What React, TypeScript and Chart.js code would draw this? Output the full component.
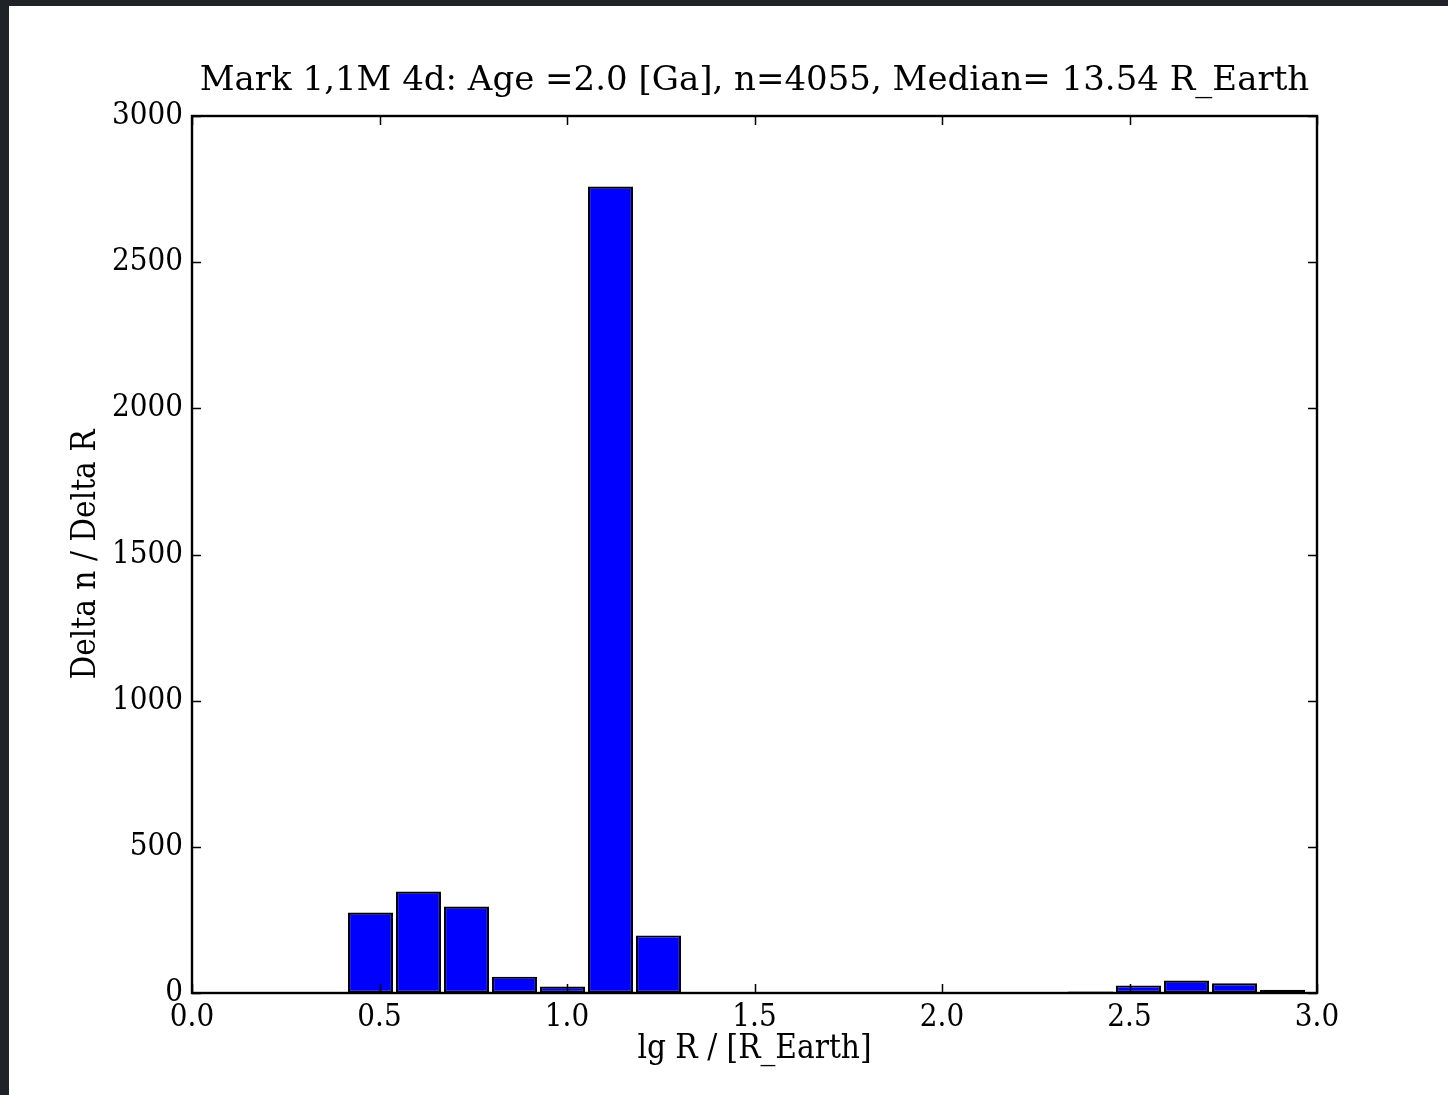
import { useEffect, useRef } from 'react';
import { Chart, registerables } from 'chart.js';

Chart.register(...registerables);

const TITLE = 'Mark 1,1M 4d: Age =2.0 [Ga], n=4055, Median= 13.54 R_Earth';
const X_LABEL = 'lg R / [R_Earth]';
const Y_LABEL = 'Delta n / Delta R';

// histogram bin centres (lg R) and bin heights
const binCenters = [
  0.476, 0.604, 0.732, 0.860, 0.988, 1.116, 1.244, 1.372, 1.500, 1.628,
  1.756, 1.884, 2.012, 2.140, 2.268, 2.396, 2.524, 2.652, 2.780, 2.908,
];
const binValues = [
  275, 347, 296, 56, 22, 2759, 197, 2, 0, 0,
  0, 0, 0, 0, 0, 5, 26, 43, 33, 11,
];

const X_MIN = 0;
const X_MAX = 3;
const X_STEP = 0.5;
const Y_MIN = 0;
const Y_MAX = 3000;
const Y_STEP = 500;

const SERIF = "'DejaVu Serif', serif";
const SERIF_TICK = "'DejaVu Serif Condensed', 'DejaVu Serif', serif";

const framePlugin = {
  id: 'frame',
  afterDraw(chart: any) {
    const { ctx, chartArea: a, scales } = chart;
    const tl = 9;
    ctx.save();
    ctx.strokeStyle = '#000';
    ctx.lineWidth = 1.5;
    ctx.beginPath();
    for (const t of scales.x.ticks) {
      const px = Math.round(scales.x.getPixelForValue(t.value)) + 0.5;
      ctx.moveTo(px, a.bottom);
      ctx.lineTo(px, a.bottom - tl);
      ctx.moveTo(px, a.top);
      ctx.lineTo(px, a.top + tl);
    }
    for (const t of scales.y.ticks) {
      const py = Math.round(scales.y.getPixelForValue(t.value)) + 0.5;
      ctx.moveTo(a.left, py);
      ctx.lineTo(a.left + tl, py);
      ctx.moveTo(a.right, py);
      ctx.lineTo(a.right - tl, py);
    }
    ctx.stroke();
    ctx.lineWidth = 2.4;
    ctx.strokeRect(a.left, a.top, a.right - a.left, a.bottom - a.top);
    ctx.restore();
  },
};

export default function App() {
  const ref = useRef<HTMLCanvasElement | null>(null);

  useEffect(() => {
    document.body.style.margin = '0';
    const canvas = ref.current;
    if (!canvas) return;
    const chart = new Chart(canvas, {
      type: 'bar',
      data: {
        datasets: [
          {
            data: binCenters.map((x, i) => ({ x, y: binValues[i] })),
            backgroundColor: '#0000ff',
            borderColor: '#000000',
            borderWidth: 2.2,
            borderSkipped: false,
            categoryPercentage: 1,
            barPercentage: 0.94,
          },
        ],
      },
      options: {
        animation: false,
        responsive: false,
        events: [],
        layout: { padding: { left: 0, right: 131, top: 0, bottom: 0 } },
        plugins: {
          legend: { display: false },
          tooltip: { enabled: false },
          title: {
            display: true,
            text: TITLE,
            fullSize: false,
            color: '#000',
            font: { family: SERIF, size: 34, weight: 'normal', lineHeight: 1.2 },
            padding: { top: 55, bottom: 14.2 },
          },
        },
        scales: {
          x: {
            type: 'linear',
            min: X_MIN,
            max: X_MAX,
            offset: false,
            grid: { display: false, drawTicks: false, offset: false },
            border: { display: false },
            ticks: {
              stepSize: X_STEP,
              color: '#000',
              padding: 6,
              maxRotation: 0,
              font: { family: SERIF_TICK, size: 31 },
              callback: (v: any) => Number(v).toFixed(1),
            },
            title: {
              display: true,
              text: X_LABEL,
              color: '#000',
              font: { family: SERIF_TICK, size: 33, lineHeight: 1.2 },
              padding: { top: 0, bottom: 26 },
            },
            afterFit: (s: any) => {
              s.height = 102;
            },
          },
          y: {
            min: Y_MIN,
            max: Y_MAX,
            grid: { display: false, drawTicks: false },
            border: { display: false },
            ticks: {
              stepSize: Y_STEP,
              color: '#000',
              padding: 9,
              font: { family: SERIF_TICK, size: 31 },
              callback: (v: any) => String(v),
            },
            title: {
              display: true,
              text: Y_LABEL,
              color: '#000',
              font: { family: SERIF_TICK, size: 33, lineHeight: 1.2 },
              padding: { top: 58, bottom: 0 },
            },
            afterFit: (s: any) => {
              s.width = 183;
            },
          },
        },
      },
      plugins: [framePlugin],
    });
    return () => chart.destroy();
  }, []);

  return (
    <div
      style={{
        position: 'fixed',
        left: 0,
        top: 0,
        width: 1448,
        height: 1095,
        background: '#1f2227',
        overflow: 'hidden',
      }}
    >
      <div
        style={{
          position: 'absolute',
          left: 9,
          top: 6,
          width: 1439,
          height: 1089,
          background: '#ffffff',
        }}
      >
        <canvas ref={ref} width={1439} height={1089} style={{ display: 'block' }} />
      </div>
    </div>
  );
}
